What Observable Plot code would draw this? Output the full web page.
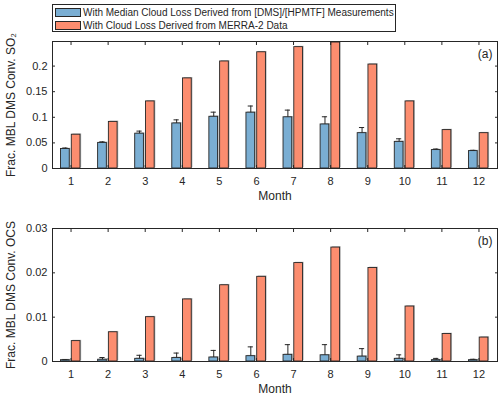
<!DOCTYPE html>
<html>
<head>
<meta charset="utf-8">
<script src="https://cdn.jsdelivr.net/npm/d3@7"></script>
<script src="https://cdn.jsdelivr.net/npm/@observablehq/plot@0.6"></script>
<style>
  html, body { margin: 0; padding: 0; background: #fff; }
  #wrap { position: relative; width: 500px; height: 399px; overflow: hidden; font-family: "Liberation Sans", Arial, sans-serif; }
  #wrap svg { position: absolute; left: 0; overflow: visible; }
  #legend { position: absolute; left: 52px; top: 4px; width: 344px; height: 28px; border: 1px solid #262626; background: #fff; z-index: 2; box-sizing: border-box; }
  .lrow { position: absolute; left: 2px; height: 10px; font-size: 10px; line-height: 10px; color: #262626; white-space: nowrap; }
  .sw { display: inline-block; width: 26px; height: 9px; border: 1px solid #262626; box-sizing: border-box; vertical-align: top; margin-right: 2px; }
</style>
</head>
<body>
<div id="wrap">
  <div id="legend"></div>
</div>
<script>
// ---- data ----
const months = [1, 2, 3, 4, 5, 6, 7, 8, 9, 10, 11, 12];
const seriesNames = [
  "With Median Cloud Loss Derived from [DMS]/[HPMTF] Measurements",
  "With Cloud Loss Derived from MERRA-2 Data"
];
// Panel (a): fraction of MBL DMS converted to SO2
const so2Median = [0.038, 0.050, 0.068, 0.088, 0.101, 0.109, 0.100, 0.086, 0.069, 0.052, 0.036, 0.034];
const so2MedianErr = [0.002, 0.002, 0.005, 0.007, 0.009, 0.013, 0.014, 0.015, 0.011, 0.006, 0.002, 0.0015];
const so2Merra = [0.066, 0.091, 0.131, 0.176, 0.209, 0.227, 0.237, 0.246, 0.203, 0.131, 0.075, 0.069];
// Panel (b): fraction of MBL DMS converted to OCS
const ocsMedian = [0.0003, 0.0004, 0.0006, 0.0008, 0.0009, 0.0012, 0.0015, 0.0014, 0.0011, 0.0006, 0.0003, 0.0003];
const ocsMedianErr = [0.0001, 0.0005, 0.0008, 0.0011, 0.0016, 0.0021, 0.0023, 0.0024, 0.0018, 0.0009, 0.0004, 0.0002];
const ocsMerra = [0.0046, 0.0066, 0.0100, 0.0140, 0.0172, 0.0191, 0.0222, 0.0257, 0.0211, 0.0124, 0.0062, 0.0054];
const so2Ticks = [0, 0.05, 0.1, 0.15, 0.2];
const ocsTicks = [0, 0.01, 0.02, 0.03];

const colors = ["#7aaed3", "#fc8d6f"];
const ink = "#262626";
const fmt = d3.format("~g");

function panel({median, err, merra, yDomain, yTicks, ylabel, tag, height, marginTop, marginBottom}) {
  const rowsA = months.map((m, i) => ({m, v: median[i], e: err[i]}));
  const rowsB = months.map((m, i) => ({m, v: merra[i]}));
  const bx1 = d => d.m - 0.27, bx2 = d => d.m - 0.035;
  const ox1 = d => d.m + 0.02, ox2 = d => d.m + 0.255;
  const ec = d => d.m - 0.1525;
  return Plot.plot({
    width: 500,
    height,
    marginTop,
    marginBottom,
    marginLeft: 52,
    marginRight: 3,
    style: {fontFamily: "Liberation Sans, Arial, sans-serif", fontSize: "11px", color: ink, background: "transparent", overflow: "visible"},
    x: {domain: [0.5, 12.5], label: null},
    y: {domain: yDomain, label: null},
    marks: [
      // shadows
      Plot.rectY(rowsA, {x1: bx1, x2: bx2, y1: 0, y2: "v", fill: "#b8b8b8", dx: 1.2, dy: -0.8}),
      Plot.rectY(rowsB, {x1: ox1, x2: ox2, y1: 0, y2: "v", fill: "#b8b8b8", dx: 1.2, dy: -0.8}),
      // bars
      Plot.rectY(rowsA, {x1: bx1, x2: bx2, y1: 0, y2: "v", fill: colors[0], stroke: ink, strokeWidth: 0.9}),
      Plot.rectY(rowsB, {x1: ox1, x2: ox2, y1: 0, y2: "v", fill: colors[1], stroke: ink, strokeWidth: 0.9}),
      // error bars (upper whisker)
      Plot.ruleX(rowsA, {x: ec, y1: "v", y2: d => d.v + d.e, stroke: ink, strokeWidth: 1}),
      Plot.ruleY(rowsA, {y: d => d.v + d.e, x1: d => ec(d) - 0.07, x2: d => ec(d) + 0.07, stroke: ink, strokeWidth: 1}),
      Plot.frame({stroke: ink, strokeWidth: 1}),
      // inward ticks
      Plot.axisX(months, {anchor: "bottom", tickSize: -3, tickPadding: 12, tickFormat: d => String(d), stroke: ink, fill: ink, fontSize: 11}),
      Plot.axisX(months, {anchor: "top", tickSize: -3, tickFormat: () => "", stroke: ink}),
      Plot.axisY(yTicks, {anchor: "left", tickSize: -3, tickPadding: 8, tickFormat: fmt, stroke: ink, fill: ink, fontSize: 11}),
      Plot.axisY(yTicks, {anchor: "right", tickSize: -3, tickFormat: () => "", stroke: ink}),
      // axis labels
      Plot.text(["Month"], {frameAnchor: "bottom", dy: 23, lineAnchor: "top", fill: ink, fontSize: 12}),
      Plot.text([ylabel], {frameAnchor: "left", dx: -46, rotate: -90, textAnchor: "middle", lineAnchor: "top", fill: ink, fontSize: 12}),
      Plot.text([tag], {frameAnchor: "top-right", dx: -5, dy: 8, textAnchor: "end", lineAnchor: "top", fill: ink, fontSize: 12})
    ]
  });
}

const wrap = document.getElementById("wrap");
const a = panel({median: so2Median, err: so2MedianErr, merra: so2Merra, yDomain: [0, 0.248], yTicks: so2Ticks,
  ylabel: "Frac. MBL DMS Conv. SO\u2082", tag: "(a)", height: 200, marginTop: 41, marginBottom: 32});
a.style.top = "0px";
wrap.appendChild(a);
const b = panel({median: ocsMedian, err: ocsMedianErr, merra: ocsMerra, yDomain: [0, 0.03], yTicks: ocsTicks,
  ylabel: "Frac. MBL DMS Conv. OCS", tag: "(b)", height: 199, marginTop: 28, marginBottom: 38});
b.style.top = "200px";
wrap.appendChild(b);

const legend = document.getElementById("legend");
seriesNames.forEach((name, i) => {
  const row = document.createElement("div");
  row.className = "lrow";
  row.style.top = (i === 0 ? 3 : 16) + "px";
  const sw = document.createElement("span");
  sw.className = "sw";
  sw.style.background = colors[i];
  row.appendChild(sw);
  row.appendChild(document.createTextNode(name));
  legend.appendChild(row);
});
</script>
</body>
</html>
